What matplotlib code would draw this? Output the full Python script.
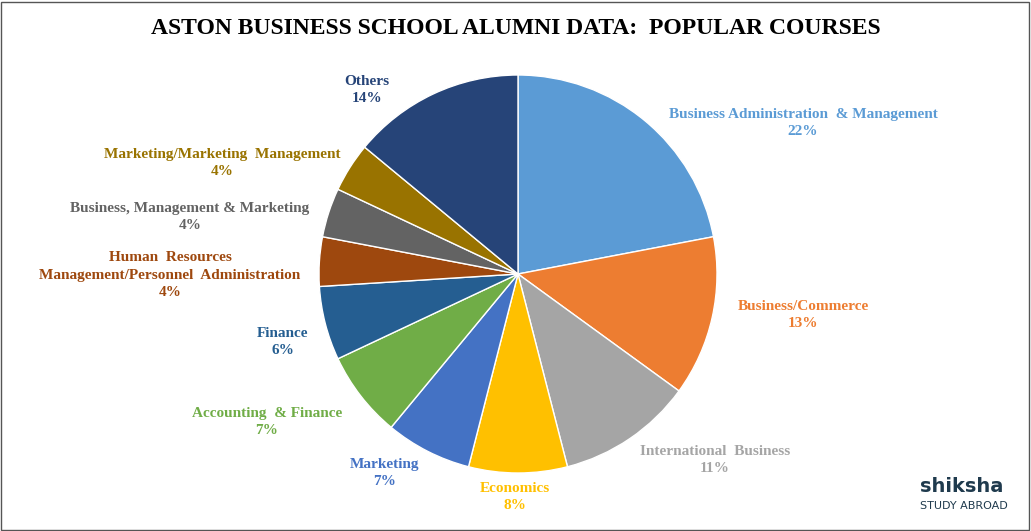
import matplotlib
matplotlib.use("Agg")
import matplotlib.pyplot as plt
from matplotlib.patches import Rectangle

courses = ["Business Administration  & Management", "Business/Commerce", "International  Business",
           "Economics", "Marketing", "Accounting  & Finance", "Finance",
           "Human  Resources\nManagement/Personnel  Administration", "Business, Management & Marketing",
           "Marketing/Marketing  Management", "Others"]
shares = [22, 13, 11, 8, 7, 7, 6, 4, 4, 4, 14]
colors = ["#5B9BD5", "#ED7D31", "#A5A5A5", "#FFC000", "#4472C4", "#70AD47",
          "#255E91", "#9E480E", "#636363", "#997300", "#264478"]
# label centres in pixel coords (x, y from top)
label_pos = [(803, 123), (803, 315), (715, 460), (515, 497), (385, 473), (267, 422),
             (283, 342), (170, 275), (190, 217), (222, 163), (367, 90)]

W, H = 1031, 531
plt.rcParams["font.family"] = ["Liberation Serif", "DejaVu Serif"]
fig = plt.figure(figsize=(W / 100, H / 100), dpi=100)

cx, cy, r = 518, 274, 199
ax = fig.add_axes([(cx - r) / W, (H - cy - r) / H, 2 * r / W, 2 * r / H])
ax.pie(shares, colors=colors, startangle=90, counterclock=False,
       wedgeprops=dict(edgecolor="white", linewidth=1))
ax.set_xlim(-1, 1)
ax.set_ylim(-1, 1)
ax.set_aspect("equal")
ax.axis("off")

for name, val, col, (x, y) in zip(courses, shares, colors, label_pos):
    fig.text(x / W, 1 - y / H, f"{name}\n{val}%", color=col, fontsize=11,
             fontweight="bold", ha="center", va="center", linespacing=1.45)

fig.text(0.5, 1 - 28 / H, "ASTON BUSINESS SCHOOL ALUMNI DATA:  POPULAR COURSES",
         fontsize=17, fontweight="bold", ha="center", va="center")

# logo text
fig.text(920 / W, 1 - 487 / H, "shiksha", fontsize=14, fontweight="bold", color="#1f3a4d",
         family="DejaVu Sans", ha="left", va="center")
fig.text(920 / W, 1 - 506 / H, "STUDY ABROAD", fontsize=8, color="#1f3a4d",
         family="DejaVu Sans", ha="left", va="center")

fig.add_artist(Rectangle((1 / W, 1 / H), 1 - 3 / W, 1 - 3 / H, transform=fig.transFigure,
                         fill=False, edgecolor="#555555", linewidth=1))

fig.savefig("out.png", dpi=100)
